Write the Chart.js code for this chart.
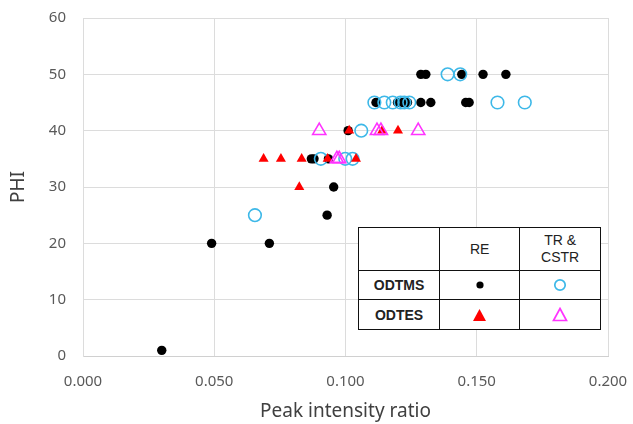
<!DOCTYPE html>
<html>
<head>
<meta charset="utf-8">
<script src="https://cdn.jsdelivr.net/npm/chart.js@4"></script>
<style>
  body { margin: 0; background: #fff; }
  #wrap { position: relative; width: 633px; height: 424px; }
  #legendTable {
    position: absolute; left: 358px; top: 227px; width: 243px; height: 102px;
    border-collapse: collapse; background: #fff;
    font-family: "Liberation Sans", Arial, sans-serif; font-size: 14px; color: #222;
  }
  #legendTable td { border: 1.5px solid #111; text-align: center; padding: 0; width: 81px; }
  #legendTable td.lab { font-weight: bold; }
  #legendTable svg { display: block; margin: 0 auto; }
</style>
</head>
<body>
<div id="wrap">
  <canvas id="chart1" width="633" height="424"></canvas>
  <table id="legendTable">
    <tr style="height:43px"><td></td><td>RE</td><td style="line-height:17px">TR &amp;<br>CSTR</td></tr>
    <tr style="height:29px"><td class="lab">ODTMS</td>
      <td><svg width="12" height="12"><circle cx="6" cy="6" r="3.6" fill="#000"/></svg></td>
      <td><svg width="14" height="14"><circle cx="7" cy="7" r="5.2" fill="none" stroke="#3db8e8" stroke-width="1.7"/></svg></td></tr>
    <tr style="height:30px"><td class="lab">ODTES</td>
      <td><svg width="15" height="14"><polygon points="7.5,1 14,13 1,13" fill="#ff0000"/></svg></td>
      <td><svg width="16" height="15"><polygon points="8,1.5 14.5,13.5 1.5,13.5" fill="none" stroke="#ff33ff" stroke-width="1.7"/></svg></td></tr>
  </table>
</div>
<script>
// ODTMS, RE (black dots)
var odtmsReX = [0.030, 0.049, 0.071, 0.093, 0.0955, 0.087, 0.088, 0.0935, 0.101,
  0.1116, 0.1198, 0.1217, 0.1236, 0.1287, 0.1325, 0.1458, 0.1471,
  0.1287, 0.1306, 0.1443, 0.1524, 0.1611];
var odtmsReY = [1, 20, 20, 25, 30, 35, 35, 35, 40,
  45, 45, 45, 45, 45, 45, 45, 45,
  50, 50, 50, 50, 50];

// ODTMS, TR & CSTR (cyan circles)
var odtmsTrX = [0.0655, 0.0906, 0.0999, 0.1027, 0.106,
  0.111, 0.1148, 0.118, 0.121, 0.1224, 0.1243, 0.1579, 0.1683,
  0.1389, 0.1437];
var odtmsTrY = [25, 35, 35, 35, 40,
  45, 45, 45, 45, 45, 45, 45, 45,
  50, 50];

// ODTES, RE (red triangles)
var odtesReX = [0.0824, 0.0688, 0.0754, 0.0833, 0.0932, 0.104, 0.1014, 0.114, 0.120];
var odtesReY = [30, 35, 35, 35, 35, 35, 40, 40, 40];

// ODTES, TR & CSTR (magenta triangles)
var odtesTrX = [0.0967, 0.0976, 0.090, 0.112, 0.1135, 0.1277];
var odtesTrY = [35, 35, 40, 40, 40, 40];

function pts(xs, ys) {
  return xs.map(function(x, i) { return {x: x, y: ys[i]}; });
}

var tickFont = {family: "'Noto Sans', sans-serif", size: 15};
var titleFont = {family: "'Noto Sans', sans-serif", size: 19};

new Chart(document.getElementById("chart1"), {
  type: 'scatter',
  data: {
    datasets: [
      {label: "ODTMS RE", data: pts(odtmsReX, odtmsReY), pointStyle: 'circle', pointRadius: 4.7,
        backgroundColor: "#000", borderColor: "#000", borderWidth: 0, order: 4},
      {label: "ODTMS TR & CSTR", data: pts(odtmsTrX, odtmsTrY), pointStyle: 'circle', pointRadius: 6.3,
        backgroundColor: "rgba(0,0,0,0)", borderColor: "#3db8e8", borderWidth: 1.6, order: 3},
      {label: "ODTES RE", data: pts(odtesReX, odtesReY), pointStyle: 'triangle', pointRadius: 5.8,
        backgroundColor: "#ff0000", borderColor: "#ff0000", borderWidth: 0, order: 2},
      {label: "ODTES TR & CSTR", data: pts(odtesTrX, odtesTrY), pointStyle: 'triangle', pointRadius: 7.6,
        backgroundColor: "rgba(0,0,0,0)", borderColor: "#ff33ff", borderWidth: 1.6, order: 1}
    ]
  },
  options: {
    responsive: false,
    animation: false,
    layout: {padding: {left: 0, top: 18, right: 25, bottom: 0}},
    plugins: {legend: {display: false}, tooltip: {enabled: false}},
    scales: {
      x: {
        min: 0, max: 0.2,
        grid: {color: "#dcdcdc", drawTicks: false},
        border: {color: "#d0d0d0"},
        ticks: {stepSize: 0.05, padding: 17, color: "#595959", font: tickFont,
          callback: function(v) { return v.toFixed(3); }},
        title: {display: true, text: "Peak intensity ratio", color: "#404040", font: titleFont,
          padding: {top: 0, bottom: 1}},
        afterFit: function(s) { s.height = 68; s.paddingLeft = 0; s.paddingRight = 0; }
      },
      y: {
        min: 0, max: 60,
        grid: {color: "#dcdcdc", drawTicks: false},
        border: {color: "#dcdcdc"},
        ticks: {stepSize: 10, padding: 17, color: "#595959", font: tickFont},
        title: {display: true, text: "PHI", color: "#404040", font: titleFont, padding: {top: 7, bottom: 0}},
        afterFit: function(s) { s.width = 83; s.paddingTop = 0; s.paddingBottom = 0; }
      }
    }
  }
});
</script>
</body>
</html>
